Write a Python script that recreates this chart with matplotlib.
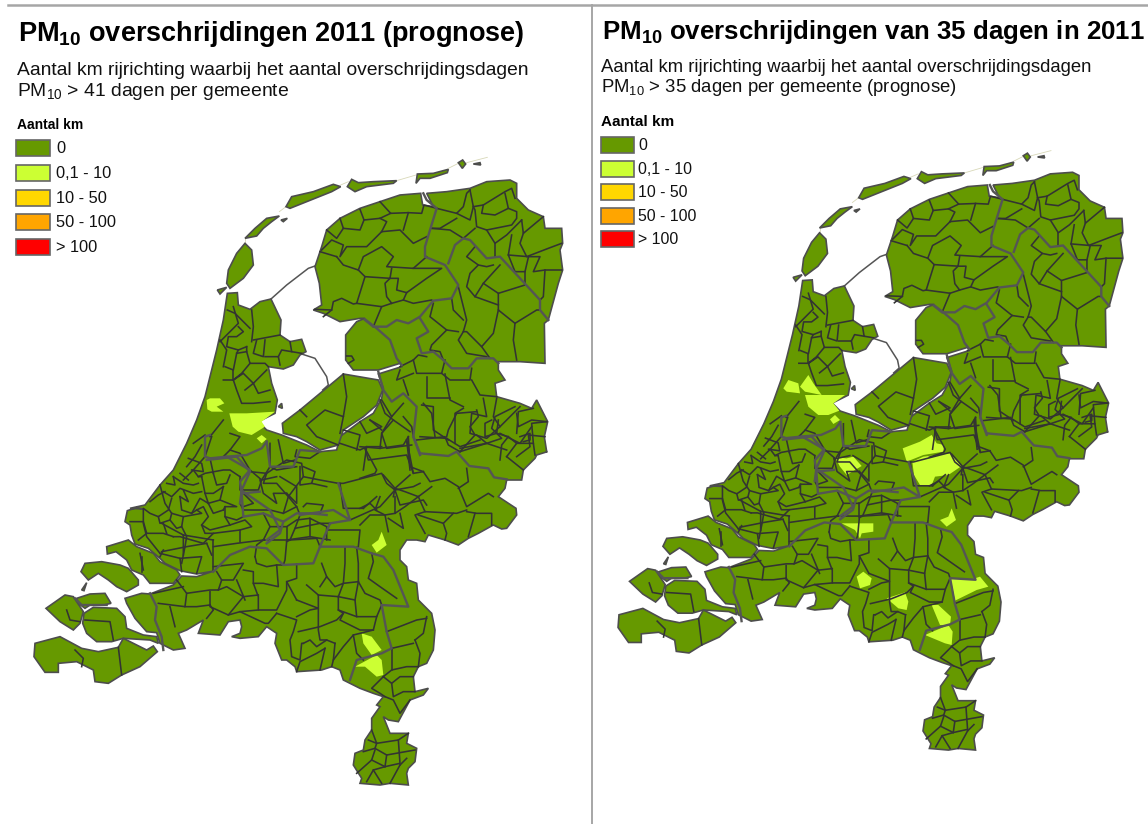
import matplotlib
matplotlib.use("Agg")
import matplotlib.pyplot as plt
from matplotlib.patches import Rectangle

plt.rcParams["font.family"] = ["Liberation Sans", "DejaVu Sans"]
plt.rcParams["mathtext.fontset"] = "custom"
plt.rcParams["mathtext.rm"] = "Liberation Sans"
plt.rcParams["mathtext.bf"] = "Liberation Sans:bold"

# TEXT
TITLES = [r"$\mathbf{PM_{10}}$ overschrijdingen 2011 (prognose)", r"$\mathbf{PM_{10}}$ overschrijdingen van 35 dagen in 2011"]
SUB_1 = ["Aantal km rijrichting waarbij het aantal overschrijdingsdagen", "Aantal km rijrichting waarbij het aantal overschrijdingsdagen"]
SUB_2 = [r"PM$_{10}$ > 41 dagen per gemeente", r"PM$_{10}$ > 35 dagen per gemeente (prognose)"]
LEGEND_TITLE = "Aantal km"
LEGEND_LABELS = ["0", "0,1 - 10", "10 - 50", "50 - 100", "> 100"]
LEGEND_COLORS = ["#669900", "#CCFF33", "#FFD700", "#FFA500", "#FF0000"]

SHEETS = {"N": (200, 150), "S": (10, 440), "E": (360, 400), "W": (130, 370)}

COAST = [
    ("W", [(0,415),(45,405),(90,345),(130,300),(170,220),(200,150),(225,80),(245,0)]),
    ("N", [(50,600),(70,510),(82,430),(112,428),(115,465),(150,478),(180,455),(213,447),(243,510),(240,555),(270,575),(305,568),(318,605),(300,615),(280,645),(250,657),(205,650),(215,700),(232,750),(225,790)]),
    ("W", [(435,130),(385,155),(410,180),(455,195),(480,205),(530,225),(570,245)]),
    ("N", [(360,905),(410,900),(420,860),(480,815),(520,790),(545,745),(550,715),(535,672),(605,650),(600,640),(535,660),(460,660),(437,630),(437,555),(470,515),(495,505),(480,505),(420,515),(370,490),(340,480),(365,465),(358,400),(345,350),(365,290),(380,240),(420,205),(480,175),(540,155),(600,135),(662,130),(668,165),(700,170),(680,130),(740,125),(810,115),(860,95),(930,90),(950,100),(950,145),(985,180),(1030,200),(1035,235),(1085,235),(1088,280),(1080,300),(1088,360),(1075,400),(1060,455),(1045,510),(1033,520),(1035,640),(960,635),(895,635),(895,660),(915,690),(885,700),(890,740),(960,760),(995,775),(1010,750),(1043,815),(1033,860),(1040,905)]),
    ("E", [(562,155),(530,165),(525,175),(490,210),(485,240),(440,240),(435,265),(415,290),(468,325),(470,345),(440,385),(425,387),(400,375),(355,400),(325,415),(295,435),(255,420),(205,405),(195,425),(170,420),(140,420),(120,450),(120,480)]),
    ("S", [(1190,380),(1195,420),(1220,430),(1225,480),(1265,520),(1275,570),(1270,630),(1250,670),(1225,680),(1210,710),(1215,755),(1255,745),(1240,765),(1200,780),(1165,845),(1135,840),(1120,830),(1140,880),(1195,880),(1190,910),(1220,925),(1215,965),(1195,985),(1190,1000),(1195,1035),(1140,1030),(1110,1035),(1050,1030),(1055,1015),(1030,975),(1035,940),(1060,930),(1065,900),(1085,870),(1085,835),(1110,800),(1100,795),(1120,770),(1090,760),(1050,745),(1000,720),(990,690),(965,680),(935,690),(860,695),(855,680),(830,660),(815,660),(795,610),(800,580),(770,560),(745,590),(690,595),(665,590),(690,580),(695,560),(690,540),(655,545),(630,585),(565,580),(580,540),(530,570),(505,580),(525,625),(490,630),(450,610),(440,578),(410,575),(375,535),(350,490),(345,475),(395,460),(420,462),(490,435),(515,408),(560,410),(612,393),(560,402),(510,392),(465,370),(450,355),(415,325),(375,312),(365,285),(360,255),(345,245),(352,212),(380,203),(400,207)]),
]

ISLANDS = [
    ("S", [(355,300),(290,320),(292,342),(318,335),(350,360),(365,390),(400,405),(420,430),(490,430),(510,405),(500,390),(450,365),(430,340),(380,320)]),
    ("S", [(213,395),(225,370),(275,365),(330,375),(355,385),(385,420),(385,435),(350,455),(320,440),(295,420),(265,400),(235,420)]),
    ("S", [(215,450),(230,428),(222,452)]),
    ("S", [(108,505),(165,465),(190,470),(220,515),(210,550),(190,570),(150,545)]),
    ("S", [(200,475),(240,462),(285,460),(303,490),(280,495),(240,495),(225,505),(205,490)]),
    ("S", [(222,520),(250,502),(320,505),(345,530),(350,565),(400,585),(440,590),(445,610),(420,600),(340,595),(305,605),(260,605),(230,580),(218,550)]),
    ("S", [(75,610),(150,590),(215,625),(265,635),(325,622),(340,595),(410,630),(430,618),(442,635),(390,680),(335,705),(295,730),(255,725),(250,690),(200,665),(145,670),(145,697),(105,697),(72,650)]),
    ("N", [(80,400),(85,360),(110,310),(135,280),(155,300),(160,345),(130,385),(90,415)]),
    ("N", [(52,420),(80,412),(60,432)]),
    ("N", [(135,265),(165,235),(200,205),(238,198),(215,215),(190,235),(170,258)]),
    ("N", [(243,210),(262,205),(250,215)]),
    ("N", [(258,170),(275,140),(340,125),(400,103),(422,110),(395,125),(345,145),(270,175)]),
    ("N", [(442,110),(455,88),(475,98),(520,95),(590,92),(580,100),(500,110),(465,125)]),
    ("N", [(648,100),(652,72),(700,70),(745,58),(742,68),(690,85),(660,85)]),
    ("N", [(775,38),(788,30),(797,42),(787,55)]),
    ("N", [(820,42),(840,38),(842,45)]),
    ("N", [(235,770),(245,760),(247,775)]),
    ("N", [(247,820),(300,780),(430,672),(535,690),(548,720),(530,765),(490,800),(430,840),(415,885),(360,900),(320,875),(290,860),(250,850)]),
]

SAND_LINES = [
    ("N", [(135,265),(135,280)]), ("N", [(238,185),(258,170)]), ("N", [(422,105),(445,95)]),
    ("N", [(590,92),(648,75)]), ("N", [(745,55),(775,40)]), ("N", [(800,38),(862,22)]),
]

DIKES = [
    ("N", [(213,447),(260,405),(325,355),(345,348)]),
    ("N", [(305,612),(345,625),(380,680),(385,705),(368,720)]),
]

THICK = [
    ("N", [(670,130),(680,150),(710,175),(690,240),(675,290),(675,320),(735,345),(775,405),(755,445),(700,452),(660,500),(625,520),(590,510),(560,530),(520,530),(495,510)]),
    ("N", [(745,340),(765,285),(790,265),(810,270),(860,325),(900,320),(1020,450),(1020,480),(1045,510)]),
    ("N", [(660,505),(685,545),(650,565),(665,610),(700,605),(730,630),(755,655),(805,655),(830,625),(880,625),(895,640)]),
    ("N", [(495,508),(530,535),(570,570),(590,625),(605,645)]),
    ("N", [(535,665),(550,720),(575,755),(610,730),(650,770),(640,860),(660,915)]),
    ("E", [(160,110),(180,160),(265,168),(290,155),(328,198),(385,205),(402,232),(440,238)]),
    ("W", [(410,215),(395,235),(350,255),(290,260),(240,265),(225,260),(225,200),(240,195)]),
    ("W", [(290,260),(360,300),(330,335),(335,370),(390,365)]),
    ("W", [(410,215),(420,290),(490,290),(510,240),(570,245)]),
    ("W", [(335,370),(340,440),(400,430),(460,455),(450,490),(410,520)]),
    ("W", [(460,455),(500,430),(540,430),(590,435)]),
    ("S", [(610,395),(660,345),(720,320),(770,325),(820,375),(910,370),(930,320),(1030,320),(1085,340),(1120,350),(1150,390),(1195,500),(1115,495),(1130,575),(1145,625),(1115,640),(1040,660),(1020,720)]),
    ("S", [(420,460),(440,500),(435,540),(455,590),(460,630)]),
    ("S", [(590,60),(680,50),(720,95),(695,150),(690,190)]),
    ("S", [(700,155),(780,210),(810,270),(770,300)]),
    ("S", [(870,225),(970,210),(1020,240),(985,130)]),
    ("S", [(930,320),(960,250),(1020,240)]),
    ("S", [(195,475),(215,495),(240,495),(290,495)]),
]

THIN = [
    # friesland, groningen, drenthe
    ("N", [(540,155),(572,190),(625,188),(665,190),(672,165),(710,175)]),
    ("N", [(480,178),(492,210),(540,205),(572,190)]), ("N", [(420,205),(430,235),(480,240),(492,210)]),
    ("N", [(430,235),(410,265),(380,240)]), ("N", [(365,300),(395,270),(430,285),(420,320),(440,290),(500,290),(545,245)]),
    ("N", [(410,320),(430,345),(475,360),(490,320),(545,290),(580,320),(560,350),(640,355),(680,320)]),
    ("N", [(475,360),(495,380),(470,460),(545,470),(520,530)]), ("N", [(495,380),(570,385),(575,355)]),
    ("N", [(570,385),(555,400),(560,440),(575,460),(545,470)]), ("N", [(570,385),(595,385),(590,420),(620,428),(680,385),(725,355),(640,355)]),
    ("N", [(360,305),(410,320)]), ("N", [(345,478),(395,480),(400,455),(425,445),(460,462),(470,460)]),
    ("N", [(370,500),(395,480)]), ("N", [(575,460),(610,450),(640,460),(695,450)]), ("N", [(620,428),(610,450)]),
    ("N", [(545,245),(560,215),(540,205)]), ("N", [(545,245),(600,240),(640,280),(680,260)]), ("N", [(625,188),(610,240)]),
    ("N", [(810,120),(800,130),(790,170),(770,190),(710,175)]), ("N", [(820,170),(810,210),(770,190)]),
    ("N", [(810,120),(820,170),(850,165),(915,125),(935,115),(945,145)]), ("N", [(850,165),(845,190),(885,195),(925,175),(915,130)]),
    ("N", [(925,175),(950,185),(950,205),(935,225),(860,240),(830,230),(825,180),(820,170)]),
    ("N", [(860,240),(885,280),(920,255),(965,210)]), ("N", [(770,205),(720,235),(695,235)]),
    ("N", [(695,235),(750,240),(790,265),(825,235)]), ("N", [(965,210),(970,250),(1030,200)]),
    ("N", [(970,250),(960,280),(980,320),(1045,295),(1085,280)]), ("N", [(925,315),(985,320),(1020,320),(1000,365),(1035,360),(1085,360)]),
    ("N", [(935,255),(925,315),(945,365),(975,365),(985,322)]), ("N", [(885,280),(885,320)]),
    ("N", [(825,290),(800,320),(835,345),(810,370),(800,410),(825,440),(850,400),(900,345)]), ("N", [(835,345),(860,350),(880,345)]),
    ("N", [(1035,360),(1030,440),(1020,450)]), ("N", [(975,365),(975,405),(895,430),(895,480),(945,520),(1010,480),(1020,480)]),
    ("N", [(945,520),(940,570),(950,630)]), ("N", [(895,480),(880,550),(845,590),(800,545),(790,545)]), ("N", [(825,440),(895,465)]), ("N", [(895,430),(850,400)]),
    ("N", [(775,410),(800,510),(790,545),(775,570),(800,610),(860,620)]), ("N", [(755,445),(760,480),(790,510)]), ("N", [(845,590),(870,625)]),
    ("N", [(700,460),(690,500),(740,540),(775,545)]), ("N", [(740,540),(695,585),(690,600),(720,605),(730,630)]),
    # overijssel, flevoland
    ("N", [(680,620),(655,615),(640,630),(600,650)]), ("N", [(640,630),(650,670),(725,670),(735,630)]),
    ("N", [(725,670),(750,690),(810,690),(815,655)]), ("N", [(735,672),(750,750),(790,770)]),
    ("N", [(680,680),(680,745),(750,745)]), ("N", [(600,660),(590,690),(640,670)]), ("N", [(610,690),(625,735)]),
    ("N", [(815,690),(840,735),(890,740)]), ("N", [(665,765),(700,770),(700,840),(745,870)]),
    ("N", [(790,775),(765,790),(765,880)]), ("N", [(850,745),(860,800),(815,790),(810,850),(860,865),(900,830)]),
    ("N", [(890,745),(880,800),(900,830),(960,770)]), ("N", [(950,790),(955,830),(995,810),(1040,815)]),
    ("N", [(900,850),(960,880),(995,830)]), ("N", [(660,860),(740,865),(780,890),(840,870)]),
    ("N", [(780,895),(860,880),(920,900)]), ("N", [(950,920),(990,890),(985,855),(1035,860)]),
    ("N", [(430,672),(440,740),(430,800),(375,780),(320,825),(350,860),(415,885)]), ("N", [(300,780),(320,800)]), ("N", [(430,800),(420,850)]),
    ("N", [(480,815),(500,850),(545,830),(510,810)]), ("N", [(545,750),(575,800),(610,760)]),
    ("N", [(575,800),(545,850),(560,895),(635,885)]), ("N", [(430,840),(480,855),(470,900)]),
    ("N", [(420,880),(480,900),(500,890),(545,890)]), ("N", [(610,800),(635,830),(640,860)]),
    ("N", [(500,890),(490,960)]), ("N", [(620,870),(630,960)]), ("N", [(440,618),(455,618),(462,630),(445,640)]),
    # noord-holland
    ("N", [(82,480),(105,490),(150,535)]), ("N", [(155,480),(160,530),(155,575)]), ("N", [(100,470),(115,520),(60,575)]),
    ("N", [(160,570),(240,555)]), ("N", [(115,530),(130,545),(110,560),(85,560),(80,590),(115,600),(140,590)]),
    ("N", [(60,570),(80,600),(70,650)]), ("N", [(170,570),(160,610),(190,620),(195,570)]), ("N", [(195,620),(235,620),(240,645)]),
    ("N", [(270,575),(275,605),(305,610)]), ("N", [(235,620),(245,600),(275,605)]), ("N", [(140,590),(140,605),(150,640),(195,640),(205,650)]),
    ("N", [(115,600),(110,610),(100,660),(75,650)]), ("N", [(140,605),(110,610)]), ("N", [(150,640),(125,670),(100,690),(130,670),(160,700),(200,660)]),
    ("N", [(70,690),(100,690),(110,720),(125,760),(160,760),(210,755)]), ("N", [(100,660),(100,690)]), ("N", [(135,720),(160,700)]), ("N", [(210,720),(175,730),(160,700)]),
    # zuid-holland, utrecht
    ("W", [(245,200),(225,260),(190,300),(160,330)]), ("W", [(240,200),(280,150)]), ("W", [(300,190),(330,200),(300,240),(280,260)]),
    ("W", [(190,220),(225,195)]), ("W", [(175,265),(215,280),(220,305),(185,300)]), ("W", [(130,320),(160,340),(190,345),(205,340)]),
    ("W", [(205,320),(225,310),(280,300),(300,300),(330,320)]), ("W", [(250,310),(260,345),(290,340),(300,315)]),
    ("W", [(215,320),(225,370),(250,370),(280,350)]), ("W", [(280,350),(270,390),(320,410),(285,410),(280,420)]),
    ("W", [(100,365),(125,380),(150,355),(190,370),(215,365)]), ("W", [(90,345),(105,400),(125,430),(160,440),(215,430),(200,420)]),
    ("W", [(150,380),(155,420),(185,430),(210,385),(235,400),(225,370)]), ("W", [(125,385),(115,420),(85,440),(60,430),(40,415),(40,455)]),
    ("W", [(160,440),(155,470),(140,475),(120,450),(90,460),(85,440)]), ("W", [(185,430),(200,420),(220,410),(235,440),(215,465),(225,490),(250,490)]),
    ("W", [(285,410),(285,440),(320,450),(340,440)]), ("W", [(235,400),(250,430),(280,420)]), ("W", [(270,390),(235,400)]),
    ("W", [(0,455),(40,455),(50,490),(25,510)]), ("W", [(50,490),(100,490),(130,500)]), ("W", [(100,460),(110,490)]), ("W", [(120,450),(125,430)]),
    ("W", [(130,500),(150,500),(220,520),(250,490),(330,480)]), ("W", [(215,465),(240,480),(300,465),(345,450),(365,470),(330,480),(330,515)]), ("W", [(300,465),(285,440)]),
    ("W", [(250,530),(320,520),(400,510)]), ("W", [(95,545),(170,530),(230,520)]), ("W", [(155,470),(170,500),(165,530),(155,580)]),
    ("W", [(230,520),(245,555)]), ("W", [(30,550),(40,600)]), ("W", [(100,540),(90,560)]), ("W", [(160,360),(175,395),(150,380)]),
    ("W", [(330,320),(330,360),(385,360),(395,330),(440,320)]), ("W", [(390,330),(400,370),(440,400),(430,370),(470,370)]),
    ("W", [(340,370),(370,400),(340,410)]), ("W", [(420,220),(420,290),(440,300),(500,290)]), ("W", [(445,210),(460,280),(495,270)]),
    ("W", [(500,240),(495,260),(540,265),(570,245)]), ("W", [(510,290),(510,345),(545,340),(555,305),(520,290)]),
    ("W", [(450,320),(500,350),(500,400),(470,370)]), ("W", [(545,340),(590,350)]), ("W", [(520,410),(530,400),(580,405),(570,430)]),
    ("W", [(540,445),(590,470),(590,510)]), ("W", [(400,510),(470,510),(540,500),(600,510)]), ("W", [(420,470),(470,470),(500,450),(540,445),(540,500)]),
    ("W", [(400,430),(420,470),(400,510)]), ("W", [(470,470),(470,510)]),
    ("W", [(170,290),(195,260),(215,225)]), ("W", [(110,340),(135,345),(130,320)]), ("W", [(60,395),(85,375),(105,365)]), ("W", [(150,310),(175,330)]),
    ("W", [(190,300),(205,320),(215,320)]), ("W", [(240,265),(250,310)]), ("W", [(300,240),(330,250),(360,300),(395,330),(420,290)]),
    # brabant, limburg, zeeland
    ("S", [(500,420),(530,460),(600,450),(625,450),(635,420),(620,395)]), ("S", [(430,460),(520,440)]), ("S", [(445,490),(525,500),(530,460)]),
    ("S", [(480,500),(495,560)]), ("S", [(525,500),(560,500),(600,495)]), ("S", [(600,455),(600,500),(655,525),(700,470)]),
    ("S", [(625,450),(650,440),(700,470),(745,465)]), ("S", [(635,420),(670,420),(700,370),(610,380)]), ("S", [(680,420),(705,480)]),
    ("S", [(700,390),(730,395),(730,430),(745,470),(745,510),(800,510),(830,450),(830,425)]), ("S", [(735,350),(740,370),(770,380),(800,375),(820,375)]),
    ("S", [(800,375),(805,440),(760,430),(730,430)]), ("S", [(655,525),(690,515),(765,550),(775,550),(800,520)]), ("S", [(690,515),(745,510)]),
    ("S", [(590,535),(610,510),(600,495)]), ("S", [(860,372),(860,415),(830,425),(860,480)]), ("S", [(860,480),(925,505),(925,465),(890,435)]),
    ("S", [(930,440),(950,410),(935,370)]), ("S", [(925,465),(985,470),(1000,430),(1045,425)]), ("S", [(1005,322),(1005,370),(1000,430),(975,440),(950,410)]),
    ("S", [(1040,322),(1045,370),(1045,425),(1065,460),(1110,480),(1115,495)]), ("S", [(1085,340),(1090,365),(1075,415),(1110,440),(1160,475)]),
    ("S", [(1045,425),(1035,480),(1040,530),(1100,530),(1115,495)]), ("S", [(985,470),(1035,480)]), ("S", [(985,470),(985,510),(1040,530)]),
    ("S", [(985,510),(1000,520),(990,540),(1050,570),(1090,570),(1100,530)]), ("S", [(800,520),(860,540),(850,575),(840,600),(845,650),(870,660),(875,610),(880,610)]),
    ("S", [(860,530),(900,510),(925,505),(925,570),(930,600),(950,600)]), ("S", [(865,575),(930,560),(980,540),(1000,520)]),
    ("S", [(880,610),(900,600),(920,620),(950,600),(975,610)]), ("S", [(945,625),(930,690)]), ("S", [(860,695),(870,665),(920,640),(945,625)]),
    ("S", [(975,610),(970,660),(965,680)]), ("S", [(970,660),(1000,620),(1030,585),(1090,570)]), ("S", [(1130,575),(1220,540),(1250,535)]),
    ("S", [(1215,600),(1230,640),(1225,680)]), ("S", [(1215,600),(1240,580),(1250,530)]), ("S", [(1030,585),(1040,640),(1060,660)]),
    ("S", [(1145,625),(1210,610)]), ("S", [(1120,710),(1145,690),(1190,680),(1225,680)]), ("S", [(1120,710),(1085,745),(1110,760),(1125,770)]), ("S", [(1145,690),(1145,625)]),
    ("S", [(1120,710),(1145,730),(1170,710),(1210,710)]), ("S", [(1145,730),(1150,770),(1180,755),(1215,755)]), ("S", [(1125,770),(1150,780),(1170,820),(1200,780)]),
    ("S", [(1075,900),(1100,910),(1165,900),(1195,880)]), ("S", [(1060,935),(1095,925),(1130,945),(1215,930)]), ("S", [(1100,910),(1095,925)]), ("S", [(1085,870),(1100,910)]),
    ("S", [(1095,930),(1085,960),(1040,1000)]), ("S", [(1130,945),(1125,980),(1090,990),(1070,1025)]), ("S", [(1085,960),(1125,980)]),
    ("S", [(1165,900),(1170,970),(1125,980)]), ("S", [(1170,975),(1140,1030)]), ("S", [(1090,990),(1115,1030)]), ("S", [(1190,955),(1170,975)]),
    ("S", [(985,130),(1000,130),(1115,100),(1130,130),(1155,150)]), ("S", [(990,130),(1000,205),(1060,205)]),
    ("S", [(1065,25),(1075,60),(1190,45),(1210,100)]), ("S", [(1190,0),(1210,100),(1240,95)]),
    ("S", [(1155,150),(1170,195),(1240,180),(1250,195)]), ("S", [(1155,150),(1210,140),(1230,130)]), ("S", [(1020,240),(1110,200),(1155,150)]),
    ("S", [(1060,205),(1100,170)]), ("S", [(960,250),(950,270),(1050,270),(1045,320)]), ("S", [(830,305),(840,300),(920,295),(930,320)]), ("S", [(840,300),(855,265),(930,250),(960,250)]), ("S", [(855,265),(870,225)]),
    ("S", [(830,305),(825,360),(820,375)]), ("S", [(735,350),(740,315),(760,300),(770,300)]), ("S", [(720,95),(770,100),(760,130),(800,130),(835,170),(860,200),(870,225)]),
    ("S", [(770,100),(830,60),(875,70),(880,110),(930,120),(985,130)]), ("S", [(880,110),(835,170),(820,220),(780,210)]), ("S", [(820,220),(860,200)]), ("S", [(690,190),(700,210),(780,210)]),
    ("S", [(170,510),(180,540),(210,545)]), ("S", [(225,540),(300,545),(310,600)]), ("S", [(195,630),(220,655),(215,680)]), ("S", [(325,622),(335,705)]),
    ("S", [(400,250),(410,290),(450,340)]), ("S", [(450,340),(510,355),(515,395)]), ("S", [(510,355),(575,350),(560,400)]),
    ("S", [(520,285),(610,300)]), ("S", [(610,300),(610,390)]), ("S", [(455,250),(520,285),(520,345)]), ("S", [(395,350),(395,395)]),
    # achterhoek
    ("E", [(170,120),(255,110),(265,135),(300,155)]), ("E", [(260,110),(265,90),(290,40),(350,35)]), ("E", [(190,10),(215,40),(225,110)]),
    ("E", [(0,140),(60,145),(130,135),(145,110)]), ("E", [(60,145),(65,100),(100,60),(150,95)]), ("E", [(100,60),(75,40),(60,0)]), ("E", [(30,60),(65,90)]),
    ("E", [(15,145),(50,210),(45,220),(0,235)]), ("E", [(145,110),(150,200),(190,215)]), ("E", [(70,225),(105,265),(100,290)]),
    ("E", [(190,215),(210,245),(255,235),(295,260),(320,320),(385,280),(400,290)]), ("E", [(295,265),(325,245),(320,205)]),
    ("E", [(150,225),(105,265),(135,275),(175,290),(215,260)]), ("E", [(175,290),(195,335),(290,340),(320,330)]),
    ("E", [(320,335),(350,340),(395,340),(395,375)]), ("E", [(345,340),(325,410)]), ("E", [(195,335),(165,345),(195,400)]),
    ("E", [(250,370),(260,400),(255,420)]), ("E", [(175,345),(250,370),(280,340)]), ("E", [(105,290),(105,340),(135,320),(175,290)]),
    ("E", [(60,290),(45,330),(75,345),(105,340)]), ("E", [(0,325),(30,310),(50,330)]), ("E", [(0,375),(30,345),(75,345),(85,395)]),
    ("E", [(120,340),(130,385),(85,355)]), ("E", [(350,30),(355,50),(330,80),(345,105),(300,155)]), ("E", [(350,105),(380,130),(300,155)]),
    ("E", [(380,130),(425,115),(395,85),(405,50),(465,20)]), ("E", [(395,60),(375,70),(375,110),(410,100),(415,60)]),
    ("E", [(410,100),(445,110),(425,135),(420,180)]), ("E", [(445,110),(470,130),(440,170)]), ("E", [(470,130),(520,130),(525,165)]),
    ("E", [(480,110),(510,100),(510,120),(490,125)]), ("E", [(440,170),(490,210)]), ("E", [(520,130),(515,70),(560,65)]), ("E", [(470,100),(475,35),(520,25)]),
]

# municipalities in class 0,1 - 10
HIGHLIGHT_41 = [
    ("W", [(230,90),(240,85),(270,85),(283,100),(260,110),(280,125),(245,125),(232,118)]),
    ("W", [(298,130),(350,130),(435,125),(395,155),(405,170),(365,195),(325,185),(308,170)]),
    ("W", [(380,205),(395,195),(410,207),(395,220)]),
    ("S", [(1085,315),(1105,300),(1115,275),(1130,315),(1100,338)]),
    ("S", [(1055,580),(1085,590),(1115,630),(1085,645),(1060,610)]),
    ("S", [(1035,680),(1100,645),(1115,660),(1120,705),(1100,710),(1065,680)]),
]
HIGHLIGHT_35 = [
    [(120,80),(145,45),(160,70),(185,105),(135,95)],
    [(70,85),(85,60),(115,70),(120,100),(80,95)],
    [(135,105),(165,105),(255,105),(220,130),(238,152),(205,165),(175,165),(145,140)],
    [(210,178),(225,165),(240,180),(220,192)],
    [(225,292),(260,295),(280,290),(305,318),(285,330),(260,345),(240,320)],
    [(428,265),(480,245),(515,225),(530,250),(552,255),(550,275),(490,285),(440,305)],
    [(457,305),(490,290),(570,280),(605,318),(565,345),(525,350),(515,375),(480,375),(462,345)],
    [(245,490),(340,490),(340,515),(305,520),(300,535),(285,510)],
    [(540,480),(565,470),(575,445),(588,480),(560,500)],
    [(290,650),(310,635),(335,655),(330,675),(300,685)],
    [(380,715),(435,697),(445,725),(440,750),(415,745)],
    [(572,655),(630,660),(660,650),(685,680),(650,690),(585,722)],
    [(515,735),(535,735),(573,770),(570,795),(540,795)],
    [(495,825),(565,795),(578,815),(575,855),(555,850)],
]

W, H = 1148, 824
RIGHT_SCALE = 0.955
RIGHT_X0, RIGHT_Y0 = 619 - 35 * RIGHT_SCALE, 157 - 164 * RIGHT_SCALE


def to_map(part):
    sheet, pts = part
    ox, oy = SHEETS[sheet]
    return [(x / 3 + ox, y / 3 + oy) for x, y in pts]


def right_to_map(pts):
    return [(((x / 3 + 760) - RIGHT_X0) / RIGHT_SCALE, ((y / 3 + 360) - RIGHT_Y0) / RIGHT_SCALE) for x, y in pts]


def draw_map(ax, highlights):
    ring = []
    for part in COAST:
        ring += to_map(part)
    for part in SAND_LINES:
        xs, ys = zip(*to_map(part))
        ax.plot(xs, ys, color="#d8d8b8", lw=0.6, zorder=1)
    for part in DIKES:
        xs, ys = zip(*to_map(part))
        ax.plot(xs, ys, color="#555555", lw=1.1, zorder=1)
    xs, ys = zip(*ring)
    ax.fill(xs, ys, facecolor=LEGEND_COLORS[0], edgecolor="#4d4d4d", lw=1.2, zorder=2)
    for part in ISLANDS:
        xs, ys = zip(*to_map(part))
        ax.fill(xs, ys, facecolor=LEGEND_COLORS[0], edgecolor="#4d4d4d", lw=1.2, zorder=2)
    for pts in highlights:
        xs, ys = zip(*pts)
        ax.fill(xs, ys, facecolor=LEGEND_COLORS[1], edgecolor="none", zorder=3)
    for part in THIN:
        xs, ys = zip(*to_map(part))
        ax.plot(xs, ys, color="#333333", lw=1.15, zorder=4, solid_joinstyle="round")
    for part in THICK:
        xs, ys = zip(*to_map(part))
        ax.plot(xs, ys, color="#555555", lw=1.7, zorder=5, solid_joinstyle="round")


fig = plt.figure(figsize=(W / 100, H / 100), dpi=100, facecolor="white")

# left map axes in px, right map axes scaled to the right panel
ax_l = fig.add_axes([0, 0, 592 / W, 1])
ax_l.set_xlim(0, 592)
ax_l.set_ylim(H, 0)
ax_r = fig.add_axes([593 / W, 0, (W - 593) / W, 1])
ax_r.set_xlim((593 - RIGHT_X0) / RIGHT_SCALE, (W - RIGHT_X0) / RIGHT_SCALE)
ax_r.set_ylim((H - RIGHT_Y0) / RIGHT_SCALE, -RIGHT_Y0 / RIGHT_SCALE)
for a in (ax_l, ax_r):
    a.axis("off")

draw_map(ax_l, [to_map(p) for p in HIGHLIGHT_41])
draw_map(ax_r, [right_to_map(p) for p in HIGHLIGHT_35])

# page furniture, legends and text
top = fig.add_axes([0, 0, 1, 1])
top.set_xlim(0, W)
top.set_ylim(H, 0)
top.axis("off")
top.plot([8, W], [5, 5], color="#a6a6a6", lw=1.8)
top.plot([592, 592], [5, H], color="#a6a6a6", lw=1.4)

panels = [
    dict(title_x=18, title_y=41, title_fs=19.5, sub_x=17, sub_y=[75, 96], sub_fs=13.9, leg_x=16, leg_w=34, leg_t=125, leg_fs=10, rows=[148, 173, 198, 222, 247], text_x=56, text_fs=11.8),
    dict(title_x=602, title_y=39, title_fs=18.6, sub_x=601, sub_y=[72, 92], sub_fs=13.3, leg_x=601, leg_w=33, leg_t=122, leg_fs=11, rows=[145, 169, 192, 216, 239], text_x=638, text_fs=11.4),
]
for i, p in enumerate(panels):
    top.text(p["title_x"], p["title_y"], TITLES[i], fontsize=p["title_fs"], fontweight="bold", va="baseline", color="black")
    top.text(p["sub_x"], p["sub_y"][0], SUB_1[i], fontsize=p["sub_fs"], va="baseline", color="#111111")
    top.text(p["sub_x"], p["sub_y"][1], SUB_2[i], fontsize=p["sub_fs"], va="baseline", color="#111111")
    top.text(p["sub_x"], p["leg_t"], LEGEND_TITLE, fontsize=p["leg_fs"], fontweight="bold", va="center", color="black")
    for y, label, col in zip(p["rows"], LEGEND_LABELS, LEGEND_COLORS):
        top.add_patch(Rectangle((p["leg_x"], y - 8), p["leg_w"], 16, facecolor=col, edgecolor="#666666", lw=1.2))
        top.text(p["text_x"], y + 0.5, label, fontsize=p["text_fs"], va="center", color="#111111")

fig.savefig("out.png", dpi=100)
